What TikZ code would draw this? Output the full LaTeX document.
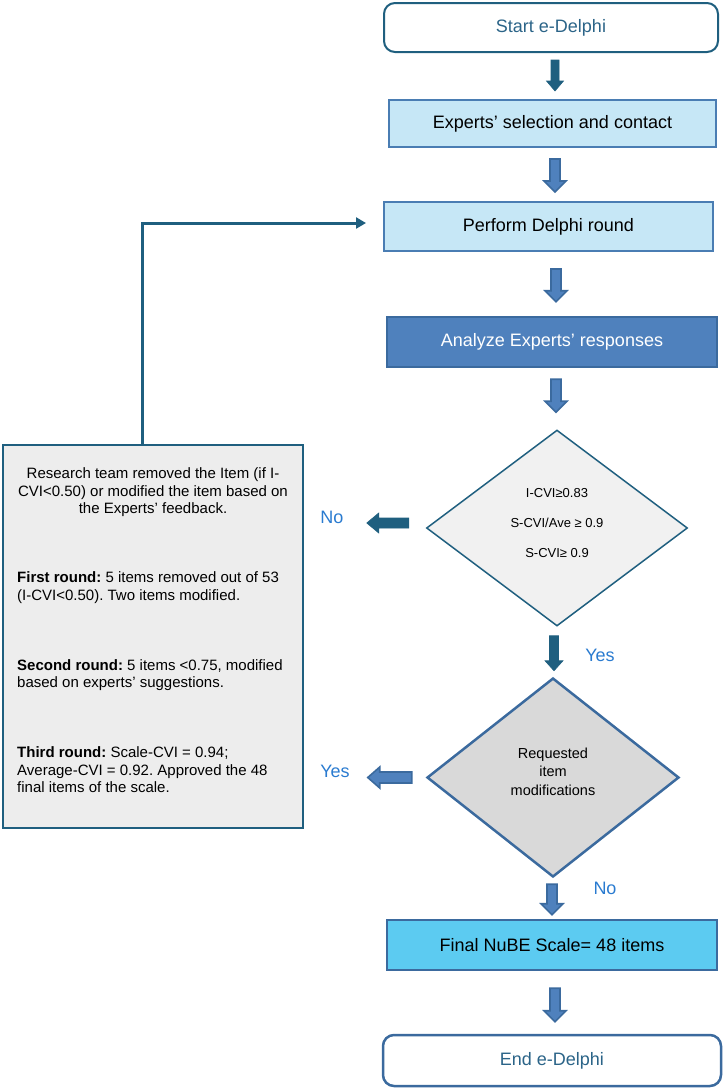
\documentclass[tikz,border=0pt]{standalone}
\usepackage{fontspec}
\setmainfont{Liberation Sans}
\usetikzlibrary{calc,shapes.geometric,arrows.meta}
\definecolor{darkteal}{HTML}{1F5F7F}
\definecolor{arrowblue}{HTML}{4F81BD}
\definecolor{arrowedge}{HTML}{3B6A9E}
\definecolor{lightblue}{HTML}{C6E7F6}
\definecolor{boxedge}{HTML}{4A7DB3}
\definecolor{finalblue}{HTML}{5CCBF1}
\definecolor{graybox}{HTML}{EDEDED}
\definecolor{dgray}{HTML}{D9D9D9}
\definecolor{dlight}{HTML}{F1F1F1}
\definecolor{labelblue}{HTML}{2A7BD0}
\definecolor{termtext}{HTML}{2B6488}
\newcommand\BArrowDown[6]{\filldraw[#6] let \p1=(#1), \p2=(#2) in
  (\x1-#3,\y1) -- (\x1+#3,\y1) -- (\x1+#3,\y2+#5) -- (\x1+#4,\y2+#5) -- (\x1,\y2)
  -- (\x1-#4,\y2+#5) -- (\x1-#3,\y2+#5) -- cycle;}
\newcommand\BArrowLeft[6]{\filldraw[#6] let \p1=(#1), \p2=(#2) in
  (\x1,\y1+#3) -- (\x2+#5,\y1+#3) -- (\x2+#5,\y1+#4) -- (\x2,\y1)
  -- (\x2+#5,\y1-#4) -- (\x2+#5,\y1-#3) -- (\x1,\y1-#3) -- cycle;}
\tikzset{
  terminal/.style={draw=#1, line width=2pt, rounded corners=11pt, fill=white,
    text=termtext, font=\fontsize{18}{21}\selectfont, inner sep=0pt},
  stepbox/.style={draw=boxedge, line width=2pt, fill=lightblue,
    font=\fontsize{18}{21}\selectfont, inner sep=0pt},
  darrow/.style={fill=darkteal, draw=darkteal, line width=0.6pt},
  barrow/.style={fill=arrowblue, draw=arrowedge, line width=1.6pt, line join=miter},
  lbl/.style={text=labelblue, font=\fontsize{18}{21}\selectfont, inner sep=0pt},
  conn/.style={draw=darkteal, line width=3pt},
  ltext/.style={font=\fontsize{15}{17.5}\selectfont, inner sep=0pt},
}
\frenchspacing
\begin{document}
\begin{tikzpicture}[x=1pt,y=-1pt]
\useasboundingbox (0,0) rectangle (725,1090);
% terminals and steps
\node[terminal=darkteal, minimum width=334pt, minimum height=49pt] (start) at (551,27.5) {Start e-Delphi};
\node[stepbox, minimum width=327pt, minimum height=47pt] (experts) at (552.5,123.5) {Experts’ selection and contact};
\node[stepbox, minimum width=329pt, minimum height=49pt] (perform) at (548.5,226.5) {Perform Delphi round};
\node[stepbox, fill=arrowblue, draw=arrowedge, line width=2.5pt, text=white, minimum width=330pt, minimum height=50pt] (analyze) at (552,342) {Analyze Experts’ responses};
% decisions
\node[diamond, draw=darkteal, line width=1.5pt, fill=dlight, minimum width=261pt, minimum height=196pt, inner sep=0pt] (d1) at (557,528) {};
\node[align=center, font=\fontsize{13}{30}\selectfont, inner sep=0pt] (d1text) at (557,523) {I-CVI≥0.83\\S-CVI/Ave ≥ 0.9\\S-CVI≥ 0.9};
\node[diamond, draw=arrowedge, line width=2.5pt, fill=dgray, minimum width=252pt, minimum height=199pt, inner sep=0pt] (d2) at (553,777.5) {};
\node[align=center, font=\fontsize{14.5}{18.5}\selectfont, inner sep=0pt] (d2text) at (553,771.5) {Requested\\item\\modifications};
\node[stepbox, fill=finalblue, draw=arrowedge, line width=2.5pt, minimum width=330pt, minimum height=50pt] (final) at (552,945) {Final NuBE Scale= 48 items};
\node[terminal=arrowedge, line width=2.5pt, minimum width=338pt, minimum height=51pt] (end) at (552,1060.5) {End e-Delphi};
% left box
\node[draw=darkteal, line width=2pt, fill=graybox, minimum width=300pt, minimum height=383pt, inner sep=0pt] (lbox) at (153,636.5) {};
\node[ltext, align=center] (p1) at (153,492.5) {Research team removed the Item (if I-\\CVI<0.50) or modified the item based on\\the Experts’ feedback.};
\node[ltext, align=left, anchor=west] (p2) at (17,587.5) {\textbf{First round:} 5 items removed out of 53\\(I-CVI<0.50). Two items modified.};
\node[ltext, align=left, anchor=west] (p3) at (17,675) {\textbf{Second round:} 5 items <0.75, modified\\based on experts’ suggestions.};
\node[ltext, align=left, anchor=west] (p4) at (17,770) {\textbf{Third round:} Scale-CVI = 0.94;\\Average-CVI = 0.92. Approved the 48\\final items of the scale.};
% labels
\node[lbl] (lno1) at (332,517) {No};
\node[lbl] (lyes1) at (600,655) {Yes};
\node[lbl] (lyes2) at (335,771) {Yes};
\node[lbl] (lno2) at (605,888) {No};
% block arrows
\BArrowDown{$(start.south)+(4,7)$}{$(experts.north)+(0,-8)$}{4pt}{8.5pt}{10pt}{darrow}
\BArrowDown{$(experts.south)+(2.5,11)$}{$(perform.north)+(0,-9)$}{5pt}{11pt}{11pt}{barrow}
\BArrowDown{$(perform.south)+(7.5,17)$}{$(analyze.north)+(0,-14)$}{5pt}{11pt}{11pt}{barrow}
\BArrowDown{$(analyze.south)+(4,11)$}{$(d1.north)+(0,-17)$}{5pt}{11pt}{11pt}{barrow}
\BArrowDown{$(d1.south)+(-3,9)$}{$(d2.north)+(0,-6)$}{4.5pt}{9pt}{10pt}{darrow}
\BArrowDown{$(d2.south)+(-1,6)$}{$(final.north)+(0,-4)$}{5pt}{11pt}{11pt}{barrow}
\BArrowDown{$(final.south)+(3,17)$}{$(end.north)+(0,-12)$}{5pt}{11pt}{11pt}{barrow}
\BArrowLeft{$(d1.west)+(-17,-5)$}{$(d1.west)+(-59,-5)$}{5pt}{10pt}{12pt}{darrow}
\BArrowLeft{$(d2.west)+(-14,0)$}{$(d2.west)+(-58,0)$}{5.5pt}{10.5pt}{12pt}{barrow}
% feedback connector
\draw[conn, -{Triangle[length=10pt,width=11pt]}] ($(lbox.north)+(-11,0)$) |- ($(perform.west)+(-17,-3.5)$);
\end{tikzpicture}
\end{document}
